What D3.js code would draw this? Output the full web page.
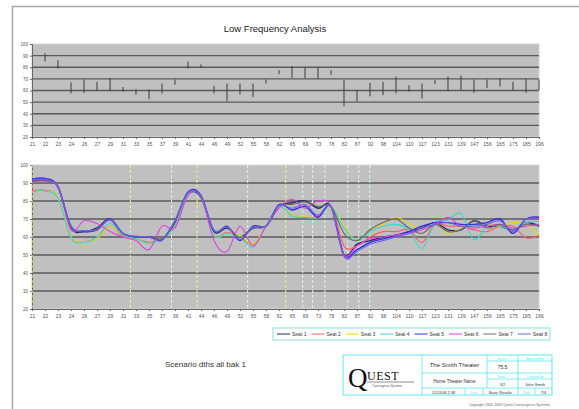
<!DOCTYPE html>
<html>
<head>
<meta charset="utf-8">
<script src="https://cdnjs.cloudflare.com/ajax/libs/d3/7.8.5/d3.min.js"></script>
<style>
body{margin:0;background:#fff;}
svg{display:block;font-family:"Liberation Sans",Arial,sans-serif;}
</style>
</head>
<body>
<svg id="chart" width="579" height="409"></svg>
<script>
//semitone frequencies (Hz), one per category
var freqs = [20.6, 21.83, 23.12, 24.5, 25.96, 27.5, 29.14, 30.87, 32.7, 34.65,
  36.71, 38.89, 41.2, 43.65, 46.25, 49, 51.91, 55, 58.27, 61.74,
  65.41, 69.3, 73.42, 77.78, 82.41, 87.31, 92.5, 98, 103.83, 110,
  116.54, 123.47, 130.81, 138.59, 146.83, 155.56, 164.81, 174.61, 185, 196];
var freqLabels = ["21","22","23","24","26","27","29","31","33","35",
  "37","39","41","44","46","49","52","55","58","62",
  "65","69","73","78","82","87","92","98","104","110",
  "117","123","131","139","147","156","165","175","185","196"];
var yTicks = [20, 30, 40, 50, 60, 70, 80, 90, 100];

//top chart - spread between seats (high / low)
var rangeHigh = [null, 92, 86, 67, 69.5, 67.5, 70.5, 63, 61, 61,
  66, 69.5, 85, 82.5, 64, 66, 66, 66, 69.5, 77.5,
  81, 80, 80, 77.5, 69, 60.5, 66.5, 67.5, 72, 64.5,
  66, 69, 72, 73, 69.5, 69.5, 70.5, 67.5, 70, 69.5];
var rangeLow = [null, 85, 79, 57.5, 58, 59.5, 59.5, 59, 56.5, 52.5,
  57.5, 65, 79, 79.5, 57.5, 51, 56.5, 54.5, 66, 74,
  71, 70.5, 70, 73.5, 46.5, 50.5, 55, 56, 57.5, 59,
  53, 65.5, 59.5, 60.5, 58, 62, 63.5, 60, 58, 60.5];

//bottom chart - seat responses
var seatNames = ["Seat 1","Seat 2","Seat 3","Seat 4","Seat 5","Seat 6","Seat 7","Seat 8"];
var seat1 = [91, 91.5, 88, 65, 63, 65, 70, 61, 60, 60, 59, 68, 84, 82, 63, 65, 60, 65, 66, 77,
  79, 80, 76, 77, 50, 56, 58, 60, 61, 63, 65, 68, 64, 64, 69, 66, 66, 64, 68, 66];
var seat2 = [85.5, 86, 82, 60, 57.5, 59.5, 66, 60.5, 59, 57, 59, 66, 84, 82.5, 61, 62.5, 60, 56, 66, 77,
  72, 71, 71.5, 77, 55, 55, 60, 63, 63, 64, 57, 67, 66, 66, 64, 63, 66, 66, 59.5, 61];
var seat3 = [85, 85.5, 82, 60, 57.5, 59, 66, 61, 59, 56.5, 59, 66, 84, 82.5, 61, 62, 61, 56, 66, 77,
  72, 71.5, 71, 77, 66, 58, 64, 67, 71, 67.5, 64, 67.5, 62, 65, 66, 67, 66, 68, 67, 61];
var seat4 = [85, 85.5, 81.5, 59.5, 57, 60, 67.5, 61, 59, 56.5, 59, 66, 84, 82.5, 61, 62, 60, 54.5, 66, 77,
  71.5, 71, 71, 77, 65, 58, 63, 66, 67, 64, 53.5, 68, 69.5, 73, 58.5, 66, 66, 64, 68, 68.5];
var seat5 = [92, 92.5, 88, 66, 63, 64, 70, 62, 60, 60, 58.5, 69, 85, 83, 63, 66, 58, 66, 66, 78,
  75, 77, 71, 77, 50, 53, 57, 59, 61, 63, 66, 68, 68, 67, 67, 68, 70, 62, 70, 71];
var seat6 = [90.5, 91, 88, 64, 69, 67.5, 63, 60, 58, 53, 66, 65, 83, 82.5, 58, 52, 66, 55, 66, 76,
  81, 76, 80, 77, 50, 55, 59, 60, 61, 62, 64, 67, 71, 66, 65, 66, 67, 65, 66, 67];
var seat7 = [91, 91.5, 87.5, 65.5, 63.5, 64, 69.5, 62, 60, 60, 59, 68.5, 84.5, 82.5, 63.5, 65.5, 59.5, 65, 66, 77.5,
  78, 79.5, 77, 77, 62, 58, 64, 68, 70, 65, 62, 67, 63, 64, 69, 65, 67, 64, 67, 66];
var seat8 = [91.5, 92, 87.5, 66, 63.5, 64.5, 69.5, 62, 60.5, 60, 58, 69, 84.5, 82.5, 64, 65.5, 58.5, 65.5, 66, 77.5,
  76, 78, 72, 77, 49, 52, 56, 58, 60, 62, 65, 67, 68, 66, 66, 67, 69, 63, 70, 70];
var seats = [seat1, seat2, seat3, seat4, seat5, seat6, seat7, seat8];
var seatColors = ["#2a2a66", "#ff5a5a", "#e6dc00", "#38d6d0", "#2f2fe0", "#e040e0", "#6a6a6a", "#7060f0"];

//room mode markers (Hz)
var axialModes = [20.6, 31.9, 42.9, 63.6];
var otherModes = [38.3, 53.7, 68.6, 71.7, 75.7, 83.8, 88, 92.4];

var svg = d3.select("#chart");

//page border
svg.append("path").attr("d", "M12.5,409 V6.5 H579")
  .attr("fill", "none").attr("stroke", "#a8a8a8").attr("stroke-width", 1.5);

svg.append("text").attr("x", 275).attr("y", 32).attr("text-anchor", "middle")
  .attr("font-size", 9.5).attr("fill", "#222").text("Low Frequency Analysis");

var x = d3.scaleLog().domain([freqs[0], freqs[freqs.length - 1]]).range([32, 539]);
var yTop = d3.scaleLinear().domain([20, 100]).range([137, 44]);
var yBot = d3.scaleLinear().domain([20, 100]).range([309, 165]);

function drawPlot(y) {
  var g = svg.append("g");
  g.append("rect").attr("x", 32).attr("y", y(100)).attr("width", 507).attr("height", y(20) - y(100))
    .attr("fill", "#c0c0c0").attr("stroke", "#d6d6d6").attr("stroke-width", 1);
  g.selectAll("line.grid").data(yTicks.filter(function(d) { return d > 20 && d < 100; }))
    .enter().append("line")
    .attr("x1", 32).attr("x2", 539)
    .attr("y1", function(d) { return y(d); }).attr("y2", function(d) { return y(d); })
    .attr("stroke", "#5a5a5a").attr("stroke-width", 1.3);

  var ya = g.append("g").attr("transform", "translate(32,0)")
    .call(d3.axisLeft(y).tickValues(yTicks).tickSize(2).tickPadding(2));
  ya.selectAll("text").attr("font-size", 4.5).attr("fill", "#555");
  ya.selectAll("line").attr("stroke", "#666");
  ya.select(".domain").attr("stroke", "#666");

  var xa = g.append("g").attr("transform", "translate(0," + y(20) + ")")
    .call(d3.axisBottom(x).tickValues(freqs).tickFormat(function(d, i) { return freqLabels[i]; })
      .tickSize(2).tickPadding(3));
  xa.selectAll("text").attr("font-size", 5).attr("fill", "#555");
  xa.selectAll("line").attr("stroke", "#666");
  xa.select(".domain").attr("stroke", "#666");
  return g;
}

//top chart
var topPlot = drawPlot(yTop);
var bars = freqs.map(function(f, i) { return {f: f, hi: rangeHigh[i], lo: rangeLow[i]}; })
  .filter(function(d) { return d.hi != null; });
topPlot.selectAll("line.bar").data(bars).enter().append("line")
  .attr("x1", function(d) { return x(d.f); }).attr("x2", function(d) { return x(d.f); })
  .attr("y1", function(d) { return yTop(d.hi); }).attr("y2", function(d) { return yTop(d.lo); })
  .attr("stroke", "#3a3a3a").attr("stroke-width", 1);

//bottom chart
var botPlot = drawPlot(yBot);
function modeLines(list, color) {
  botPlot.selectAll(null).data(list).enter().append("line")
    .attr("x1", function(d) { return x(d); }).attr("x2", function(d) { return x(d); })
    .attr("y1", yBot(100)).attr("y2", yBot(20))
    .attr("stroke", color).attr("stroke-width", 1).attr("stroke-dasharray", "3,2");
}
modeLines(axialModes, "#f4f08a");
modeLines(otherModes, "#d4f6f6");

var line = d3.line()
  .x(function(d, i) { return x(freqs[i]); })
  .y(function(d) { return yBot(d); })
  .curve(d3.curveCardinal.tension(0));

seats.forEach(function(s, k) {
  botPlot.append("path").datum(s).attr("d", line)
    .attr("fill", "none").attr("stroke", seatColors[k])
    .attr("stroke-width", (k == 0 || k == 4) ? 1.4 : 1.1);
});

//legend
var leg = svg.append("g").attr("transform", "translate(273,328)");
leg.append("rect").attr("width", 277).attr("height", 12)
  .attr("fill", "#fff").attr("stroke", "#8fdcdc").attr("stroke-width", 1);
seatNames.forEach(function(n, k) {
  var e = leg.append("g").attr("transform", "translate(" + (4 + k * 34.4) + ",6)");
  e.append("line").attr("x1", 0).attr("x2", 13).attr("stroke", seatColors[k]).attr("stroke-width", 1);
  e.append("text").attr("x", 15).attr("y", 2).attr("font-size", 5).attr("fill", "#333").text(n);
});

svg.append("text").attr("x", 165).attr("y", 367).attr("font-size", 8).attr("fill", "#333")
  .text("Scenario dths all bak 1");

//title block
var tb = svg.append("g");
var cy = "#5ae6f0";
tb.append("rect").attr("x", 343).attr("y", 355).attr("width", 209).attr("height", 40)
  .attr("fill", "#fff").attr("stroke", cy).attr("stroke-width", 1);
var segs = [[422,355,422,395],[487,355,487,388],[518,355,518,395],
  [422,373,552,373],[422,388,552,388],[487,361,552,361],[487,379,552,379],
  [465,388,465,395],[483,388,483,395],[535,388,535,395]];
segs.forEach(function(s) {
  tb.append("line").attr("x1", s[0]).attr("y1", s[1]).attr("x2", s[2]).attr("y2", s[3])
    .attr("stroke", cy).attr("stroke-width", 0.8);
});
function cell(t, xx, yy, size, col) {
  tb.append("text").attr("x", xx).attr("y", yy).attr("text-anchor", "middle")
    .attr("font-size", size).attr("fill", col || "#333").text(t);
}
cell("The Smith Theater", 454.5, 367, 6);
cell("Home Theater Name", 454.5, 382.5, 4.5);
cell("1/1/2006 2:38", 443.5, 393.5, 3.8);
cell("Basic Results", 500.5, 393.5, 3.8);
cell("7/4", 543.5, 393.5, 3.8);
cell("Date", 474, 393.5, 3, cy);
cell("Page", 526.5, 393.5, 3, cy);
cell("Score #", 502.5, 359.5, 3, cy);
cell("Approved By", 535, 359.5, 3, cy);
cell("75.5", 502.5, 369, 5);
cell("Seats #", 502.5, 377.5, 3, cy);
cell("Designed By", 535, 377.5, 3, cy);
cell("3/2", 502.5, 386, 4);
cell("John Smith", 535, 386, 4);

//logo
tb.append("text").attr("x", 348).attr("y", 387).attr("font-family", "Liberation Serif,serif")
  .attr("font-size", 27).attr("fill", "#111").text("Q");
tb.append("text").attr("x", 367).attr("y", 380).attr("font-family", "Liberation Serif,serif")
  .attr("font-size", 12).attr("fill", "#111").attr("letter-spacing", 0.5).text("UEST");
tb.append("line").attr("x1", 367).attr("x2", 414).attr("y1", 382).attr("y2", 382)
  .attr("stroke", "#444").attr("stroke-width", 0.6);
tb.append("text").attr("x", 372).attr("y", 386.5).attr("font-size", 3).attr("font-style", "italic")
  .attr("fill", "#555").text("Convergence Systems");

svg.append("text").attr("x", 550).attr("y", 406).attr("text-anchor", "end")
  .attr("font-size", 3.6).attr("fill", "#666")
  .text("Copyright 2005-2006 Quest Convergence Systems");
</script>
</body>
</html>
